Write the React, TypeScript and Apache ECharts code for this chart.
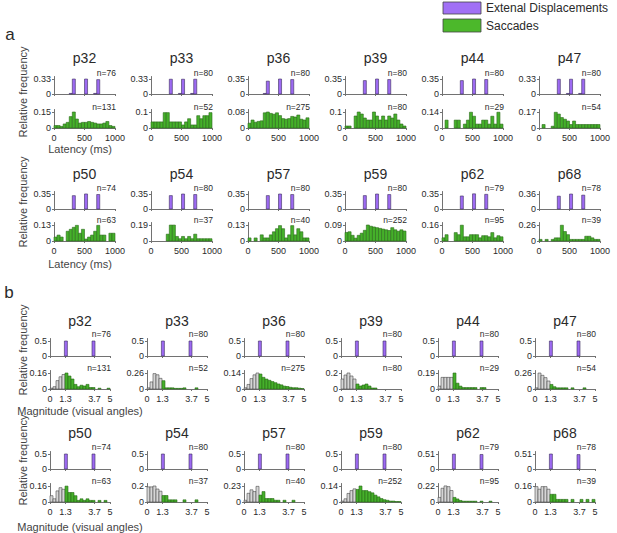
import React, { useEffect, useRef } from 'react';
import * as echarts from 'echarts';

// ---------- data ----------
const participants = ['p32', 'p33', 'p36', 'p39', 'p44', 'p47', 'p50', 'p54', 'p57', 'p59', 'p62', 'p68'];
const nDisplacements = [76, 80, 80, 80, 80, 80, 74, 80, 80, 80, 79, 78];
const nSaccades = [131, 52, 275, 80, 29, 54, 63, 37, 40, 252, 95, 39];

// y tick (max) labels
const latencyDispTicks = [0.33, 0.33, 0.35, 0.35, 0.35, 0.33, 0.35, 0.35, 0.35, 0.35, 0.35, 0.36];
const latencySaccTicks = [0.15, 0.1, 0.08, 0.1, 0.14, 0.17, 0.13, 0.19, 0.13, 0.09, 0.16, 0.26];
const magnitudeDispTicks = [0.5, 0.5, 0.5, 0.5, 0.5, 0.5, 0.5, 0.5, 0.5, 0.5, 0.51, 0.51];
const magnitudeSaccTicks = [0.16, 0.26, 0.14, 0.2, 0.19, 0.26, 0.16, 0.2, 0.23, 0.14, 0.22, 0.16];

// x ticks
const latencyTicks = [0, 500, 1000];
const magnitudeTicks = [0, 1.3, 3.7, 5];

// histogram bin edges
const latencyEdges = [0, 50, 100, 150, 200, 250, 300, 350, 400, 450, 500, 550, 600, 650, 700, 750, 800, 850, 900, 950, 1000];
const magnitudeEdges = [0, 0.25, 0.5, 0.75, 1, 1.25, 1.5, 1.75, 2, 2.25, 2.5, 2.75, 3, 3.25, 3.5, 3.75, 4, 4.25, 4.5, 4.75, 5];
const magnitudeThreshold = 1.25;

// external displacement bins
const latencyDispBins = [[250, 300], [300, 350], [450, 500], [500, 550], [650, 700], [700, 750]];
const latencyDisp = [
  [0.013, 0.329, 0, 0.329, 0.013, 0.316],
  [0, 0.325, 0.0125, 0.325, 0.0125, 0.325],
  [0.0125, 0.3, 0, 0.35, 0, 0.3375],
  [0, 0.3125, 0, 0.35, 0, 0.3375],
  [0, 0.3125, 0, 0.35, 0, 0.3375],
  [0, 0.325, 0.0125, 0.325, 0.0125, 0.325],
  [0, 0.311, 0, 0.351, 0, 0.338],
  [0, 0.3125, 0, 0.35, 0, 0.3375],
  [0, 0.3125, 0, 0.35, 0, 0.3375],
  [0, 0.3125, 0, 0.35, 0, 0.3375],
  [0, 0.304, 0, 0.354, 0, 0.342],
  [0, 0.308, 0, 0.359, 0, 0.333],
];
const magnitudeDispBins = [[1.2, 1.45], [3.5, 3.75]];
const magnitudeDisp = [
  [0.5, 0.5], [0.5, 0.5], [0.5, 0.5], [0.5, 0.5], [0.5, 0.5], [0.5, 0.5],
  [0.5, 0.5], [0.5, 0.5], [0.5, 0.5], [0.5, 0.5], [0.506, 0.494], [0.51, 0.49],
];

// saccade latency histograms (relative frequency per 50 ms bin)
const latencySacc = [
  [0.023, 0.023, 0.015, 0.038, 0.053, 0.107, 0.15, 0.084, 0.046, 0.053, 0.053, 0.061, 0.053, 0.046, 0.038, 0.038, 0.046, 0.061, 0.023, 0.015],
  [0.038, 0.038, 0.038, 0.038, 0.096, 0.096, 0.038, 0.038, 0.038, 0.038, 0.019, 0.038, 0.058, 0.019, 0.019, 0.077, 0.058, 0.077, 0.077, 0.096],
  [0.024, 0.04, 0.029, 0.033, 0.036, 0.076, 0.08, 0.073, 0.069, 0.076, 0.062, 0.047, 0.044, 0.047, 0.058, 0.055, 0.065, 0.044, 0.04, 0.051],
  [0.0125, 0.0125, 0, 0.075, 0.1, 0.0875, 0.0625, 0.05, 0.05, 0.1, 0.075, 0.05, 0.075, 0.05, 0.075, 0.0625, 0.0875, 0.05, 0.025, 0.0125],
  [0, 0.069, 0, 0, 0.069, 0.069, 0, 0.034, 0.069, 0.138, 0.103, 0.034, 0.034, 0.069, 0.069, 0.034, 0.103, 0.034, 0.138, 0.034],
  [0, 0.037, 0, 0, 0.019, 0.167, 0.148, 0.111, 0.093, 0.074, 0.037, 0.074, 0.037, 0.037, 0.037, 0.037, 0.037, 0.037, 0.037, 0.037],
  [0.032, 0.048, 0.032, 0, 0.079, 0.095, 0.111, 0.127, 0.063, 0.095, 0.016, 0.032, 0.048, 0.079, 0.127, 0.048, 0.048, 0, 0.063, 0.063],
  [0, 0, 0, 0, 0, 0.081, 0.189, 0.189, 0.054, 0.027, 0.054, 0.027, 0.054, 0.027, 0.081, 0.027, 0.027, 0.027, 0.027, 0.027],
  [0.025, 0, 0.025, 0, 0.05, 0.025, 0.025, 0.05, 0.075, 0.1, 0.125, 0.1, 0.025, 0.05, 0.125, 0.05, 0.1, 0.075, 0.025, 0.025],
  [0.048, 0.052, 0.032, 0.016, 0.032, 0.044, 0.06, 0.09, 0.083, 0.079, 0.075, 0.071, 0.067, 0.063, 0.059, 0.075, 0.063, 0.055, 0.063, 0.056],
  [0.032, 0.063, 0, 0, 0.084, 0.063, 0.158, 0.042, 0.042, 0.063, 0.063, 0.063, 0.032, 0.053, 0.053, 0.042, 0.084, 0.032, 0.053, 0.042],
  [0.026, 0, 0.026, 0, 0.026, 0.051, 0.051, 0.256, 0.154, 0.103, 0.026, 0.026, 0.026, 0.026, 0.026, 0.077, 0.077, 0.051, 0.026, 0.026],
];

// saccade magnitude histograms (relative frequency per 0.25 deg bin)
const magnitudeSacc = [
  [0.008, 0.023, 0.084, 0.122, 0.145, 0.16, 0.13, 0.1, 0.046, 0.023, 0.038, 0.03, 0.046, 0.015, 0.015, 0, 0.008, 0, 0, 0.008],
  [0.019, 0.115, 0.25, 0.231, 0.173, 0.135, 0.019, 0.019, 0.019, 0.01, 0.01, 0.01, 0.019, 0, 0, 0, 0.019, 0, 0, 0],
  [0.011, 0.04, 0.091, 0.124, 0.14, 0.131, 0.102, 0.087, 0.076, 0.065, 0.055, 0.044, 0.036, 0.025, 0.022, 0.015, 0.011, 0.011, 0.007, 0.004],
  [0.125, 0.175, 0.2, 0.1625, 0.125, 0.0625, 0.0375, 0.05, 0.0625, 0.0375, 0.0125, 0.0125, 0, 0, 0, 0, 0, 0, 0, 0],
  [0.034, 0.138, 0.138, 0.138, 0.138, 0.19, 0.069, 0.034, 0.017, 0.017, 0.017, 0.017, 0.017, 0, 0.017, 0.017, 0, 0, 0, 0],
  [0.019, 0.259, 0.222, 0.185, 0.13, 0.074, 0.037, 0.019, 0.019, 0.019, 0.019, 0, 0.019, 0, 0, 0, 0.019, 0, 0, 0],
  [0.063, 0.032, 0.111, 0.143, 0.127, 0.159, 0.095, 0.095, 0.063, 0.016, 0.032, 0.016, 0.032, 0.016, 0.016, 0, 0.016, 0, 0.016, 0],
  [0.189, 0.189, 0.2, 0.162, 0.135, 0.081, 0.081, 0.027, 0.027, 0.027, 0, 0, 0.027, 0, 0, 0, 0.027, 0, 0, 0],
  [0.025, 0.125, 0.175, 0.15, 0.225, 0.1, 0.15, 0.05, 0.05, 0.05, 0.025, 0.025, 0, 0.025, 0, 0, 0.025, 0, 0, 0],
  [0.008, 0.028, 0.075, 0.1, 0.115, 0.11, 0.14, 0.1, 0.1, 0.09, 0.08, 0.06, 0.045, 0.03, 0.02, 0.015, 0.008, 0.008, 0.004, 0.004],
  [0.063, 0.189, 0.221, 0.211, 0.158, 0.063, 0.042, 0.021, 0.011, 0.011, 0.011, 0.011, 0.011, 0, 0.011, 0, 0, 0.011, 0, 0],
  [0.154, 0.128, 0.154, 0.154, 0.128, 0.077, 0.077, 0.026, 0.026, 0.026, 0.026, 0, 0.026, 0, 0, 0.026, 0, 0.026, 0, 0.026],
];

// ---------- styling ----------
const FONT = '"Liberation Sans", Arial, Helvetica, sans-serif';
const FILLS = ['#9d6af2', '#45b02a', '#d6d6d6'];
const EDGES = ['#3b2d5c', '#2a6a1a', '#4a4a4a'];
const AXIS = '#727272';
const TEXT = '#2a2a2a';

const renderBar = (params: any, api: any) => {
  const x0 = api.value(0);
  const x1 = api.value(1);
  const y = api.value(2);
  const k = api.value(3);
  if (!(y > 0)) return null;
  const a = api.coord([x0, y]);
  const b = api.coord([x1, 0]);
  return {
    type: 'rect',
    shape: { x: a[0], y: a[1], width: b[0] - a[0], height: b[1] - a[1] },
    style: { fill: FILLS[k], stroke: EDGES[k], lineWidth: 0.6 },
  };
};

function buildOption() {
  const grid: any[] = [];
  const xAxis: any[] = [];
  const yAxis: any[] = [];
  const series: any[] = [];
  const elements: any[] = [];
  let gi = 0;

  const addPlot = (
    left: number, width: number, zero: number, span: number, tick: number,
    xMin: number, xMax: number, xTicks: number[], showXLabels: boolean, items: any[], nText: string, nOffset: number
  ) => {
    const h = span + 2.5;
    grid.push({ left, top: zero - h, width, height: h });
    xAxis.push({
      type: 'value', gridIndex: gi, min: xMin, max: xMax,
      axisLine: { show: true, onZero: false, lineStyle: { color: AXIS, width: 1 } },
      axisTick: { show: true, length: 2, customValues: xTicks, lineStyle: { color: AXIS } },
      axisLabel: {
        show: showXLabels, customValues: xTicks, fontSize: 9, color: TEXT, margin: 5, fontFamily: FONT,
        formatter: (v: number) => String(v),
      },
      splitLine: { show: false },
    });
    yAxis.push({
      type: 'value', gridIndex: gi, min: 0, max: (tick * h) / span,
      axisLine: { show: true, lineStyle: { color: AXIS, width: 1 } },
      axisTick: { show: true, length: 2, customValues: [0, tick], lineStyle: { color: AXIS } },
      axisLabel: {
        customValues: [0, tick], fontSize: 9, color: TEXT, margin: 3, fontFamily: FONT,
        formatter: (v: number) => (v === 0 ? '0' : String(tick)),
      },
      splitLine: { show: false },
    });
    series.push({
      type: 'custom', xAxisIndex: gi, yAxisIndex: gi, data: items, renderItem: renderBar,
      encode: { x: [0, 1], y: 2 }, silent: true, clip: false,
    });
    elements.push({
      type: 'text', x: left + width + 1, y: zero - span + nOffset,
      style: { text: nText, fontSize: 8.5, fill: TEXT, align: 'right', verticalAlign: 'middle', fontFamily: FONT },
    });
    gi++;
  };

  const rowsA = [
    { pZero: 94, gZero: 128, titleY: 58, axisTitleY: 149, relY: 92 },
    { pZero: 209, gZero: 241, titleY: 174, axisTitleY: 264, relY: 202 },
  ];
  const rowsB = [
    { pZero: 356, gZero: 389, titleY: 321, axisTitleY: 411, relY: 350 },
    { pZero: 469, gZero: 502, titleY: 433, axisTitleY: 527, relY: 460 },
  ];

  const addSection = (rows: any[], isLatency: boolean) => {
    rows.forEach((row, r) => {
      for (let c = 0; c < 6; c++) {
        const p = r * 6 + c;
        const left = (isLatency ? 54 : 50) + 97 * c;
        const width = isLatency ? 61 : 60;
        const dispBins = isLatency ? latencyDispBins : magnitudeDispBins;
        const dispVals = isLatency ? latencyDisp[p] : magnitudeDisp[p];
        const dispItems = dispBins.map((b, k) => [b[0], b[1], dispVals[k], 0]);
        const edges = isLatency ? latencyEdges : magnitudeEdges;
        const saccVals = isLatency ? latencySacc[p] : magnitudeSacc[p];
        const saccItems = saccVals.map((v, k) => [
          edges[k], edges[k + 1], v, isLatency ? 1 : edges[k] < magnitudeThreshold ? 2 : 1,
        ]);
        const xMax = isLatency ? 1000 : 5;
        const ticks = isLatency ? latencyTicks : magnitudeTicks;
        addPlot(left, width, row.pZero, 15, isLatency ? latencyDispTicks[p] : magnitudeDispTicks[p],
          0, xMax, ticks, false, dispItems, 'n=' + nDisplacements[p], isLatency ? -6 : -7);
        addPlot(left, width, row.gZero, 16, isLatency ? latencySaccTicks[p] : magnitudeSaccTicks[p],
          0, xMax, ticks, true, saccItems, 'n=' + nSaccades[p], -5);
        elements.push({
          type: 'text', x: left + width / 2, y: row.titleY,
          style: { text: participants[p], fontSize: 14, fill: TEXT, align: 'center', verticalAlign: 'middle', fontFamily: FONT },
        });
      }
      elements.push({
        type: 'text', x: 80, y: row.axisTitleY,
        style: { text: isLatency ? 'Latency (ms)' : 'Magnitude (visual angles)', fontSize: 11, fill: '#444', align: 'center', verticalAlign: 'middle', fontFamily: FONT },
      });
      elements.push({
        type: 'text', x: 23, y: row.relY, rotation: Math.PI / 2,
        style: { text: 'Relative frequency', fontSize: 11, fill: '#444', align: 'center', verticalAlign: 'middle', fontFamily: FONT },
      });
    });
  };

  addSection(rowsA, true);
  addSection(rowsB, false);

  // panel letters
  elements.push({ type: 'text', x: 10, y: 34, style: { text: 'a', fontSize: 17, fill: TEXT, align: 'center', verticalAlign: 'middle', fontFamily: FONT } });
  elements.push({ type: 'text', x: 9, y: 292, style: { text: 'b', fontSize: 17, fill: TEXT, align: 'center', verticalAlign: 'middle', fontFamily: FONT } });

  // legend
  elements.push({ type: 'rect', shape: { x: 443, y: 2, width: 38, height: 12 }, style: { fill: '#a170f5', stroke: '#444', lineWidth: 0.8 } });
  elements.push({ type: 'rect', shape: { x: 443, y: 19, width: 38, height: 13 }, style: { fill: '#4cb82b', stroke: '#444', lineWidth: 0.8 } });
  elements.push({ type: 'text', x: 486, y: 8, style: { text: 'Extenal Displacements', fontSize: 12, fill: TEXT, align: 'left', verticalAlign: 'middle', fontFamily: FONT } });
  elements.push({ type: 'text', x: 486, y: 26, style: { text: 'Saccades', fontSize: 12, fill: TEXT, align: 'left', verticalAlign: 'middle', fontFamily: FONT } });

  return {
    animation: false,
    backgroundColor: '#fff',
    textStyle: { fontFamily: FONT },
    grid, xAxis, yAxis, series,
    graphic: { elements },
  };
}

export default function App() {
  const ref = useRef<HTMLDivElement>(null);
  useEffect(() => {
    document.body.style.margin = '0';
    const chart = echarts.init(ref.current as HTMLDivElement, null, { renderer: 'svg' });
    chart.setOption(buildOption() as any);
    return () => chart.dispose();
  }, []);
  return <div ref={ref} style={{ width: 617, height: 533 }} />;
}
